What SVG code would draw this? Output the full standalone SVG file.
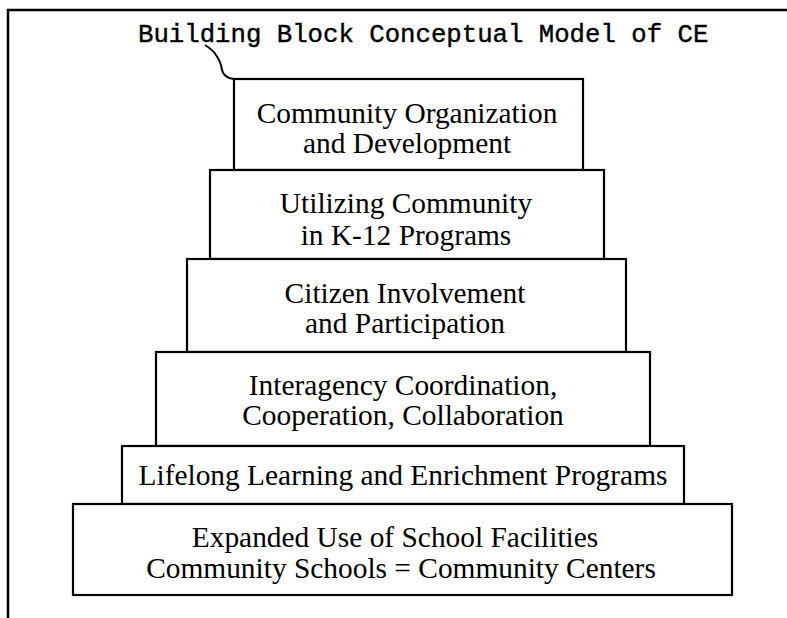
<svg xmlns="http://www.w3.org/2000/svg" width="787" height="618" viewBox="0 0 787 618">
<style>
.frame{fill:none;stroke:#000;stroke-width:2.5}
.blk{fill:#fff;stroke:#000;stroke-width:2.2}
.lbl{font-family:"Liberation Serif","Times New Roman",serif;font-size:29.4px;fill:#000;text-anchor:middle}
.ttl{font-family:"Liberation Mono","Courier New",monospace;font-size:25.7px;fill:#000;stroke:#000;stroke-width:0.4}
</style>
<rect width="787" height="618" fill="#fff"/>
<path class="frame" d="M787 10 L8 10 L8 618"/>
<text class="ttl" x="138" y="42">Building Block Conceptual Model of CE</text>
<g id="connectors">
<path fill="none" stroke="#000" stroke-width="2" d="M205 45 Q213 50 216 55 Q221 62 222 70 Q224 78 234 79"/>
</g>
<g id="block1">
<rect class="blk" x="234" y="79" width="349" height="91"/>
<text class="lbl" x="407" y="123">Community Organization</text>
<text class="lbl" x="407" y="153">and Development</text>
</g>
<g id="block2">
<rect class="blk" x="210" y="170" width="394" height="89"/>
<text class="lbl" x="406" y="213">Utilizing Community</text>
<text class="lbl" x="406" y="245">in K-12 Programs</text>
</g>
<g id="block3">
<rect class="blk" x="187" y="259" width="439" height="93"/>
<text class="lbl" x="405" y="303">Citizen Involvement</text>
<text class="lbl" x="405" y="333">and Participation</text>
</g>
<g id="block4">
<rect class="blk" x="156" y="352" width="494" height="94"/>
<text class="lbl" x="403" y="395">Interagency Coordination,</text>
<text class="lbl" x="403" y="425">Cooperation, Collaboration</text>
</g>
<g id="block5">
<rect class="blk" x="122" y="446" width="562" height="58"/>
<text class="lbl" x="403" y="485">Lifelong Learning and Enrichment Programs</text>
</g>
<g id="block6">
<rect class="blk" x="73" y="504" width="659" height="91"/>
<text class="lbl" x="395" y="547">Expanded Use of School Facilities</text>
<text class="lbl" x="401" y="578">Community Schools = Community Centers</text>
</g>
</svg>
